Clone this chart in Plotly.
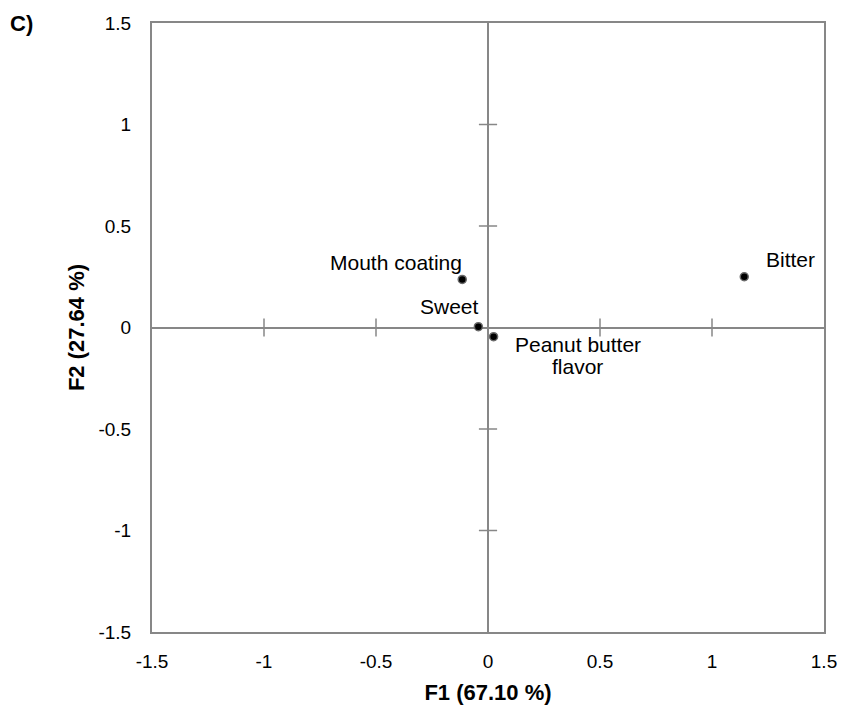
import plotly.graph_objects as go

# Data
attributes = ["Mouth coating", "Sweet", "Peanut butter flavor", "Bitter"]
f1_values = [-0.115, -0.043, 0.025, 1.144]
f2_values = [0.237, 0.004, -0.045, 0.250]
tick_values = [-1.5, -1, -0.5, 0, 0.5, 1, 1.5]
tick_labels = ["-1.5", "-1", "-0.5", "0", "0.5", "1", "1.5"]

FONT = "Liberation Sans, Arial, sans-serif"
AXIS_GRAY = "#878787"

fig = go.Figure()

# cross ticks on the zero lines
inner_ticks = [t for t in tick_values if t not in (-1.5, 0, 1.5)]
fig.add_trace(go.Scatter(
    x=inner_ticks, y=[0] * len(inner_ticks), mode="markers",
    marker=dict(symbol="line-ns-open", size=13, color=AXIS_GRAY,
                line=dict(color=AXIS_GRAY, width=1.5)),
    hoverinfo="skip", showlegend=False))
fig.add_trace(go.Scatter(
    x=[0] * len(inner_ticks), y=inner_ticks, mode="markers",
    marker=dict(symbol="line-ew-open", size=13, color=AXIS_GRAY,
                line=dict(color=AXIS_GRAY, width=1.5)),
    hoverinfo="skip", showlegend=False))

# points
fig.add_trace(go.Scatter(
    x=f1_values, y=f2_values, mode="markers",
    marker=dict(symbol="circle", size=8, color="black", line=dict(color="#6a6a6a", width=1.5)),
    showlegend=False))

# labels (one annotation per text line)
label_pos = [
    [dict(xanchor="right", xshift=2, yshift=17)],
    [dict(xanchor="right", xshift=3, yshift=20)],
    [dict(xanchor="center", xshift=84, yshift=-8),
     dict(xanchor="center", xshift=84, yshift=-30)],
    [dict(xanchor="left", xshift=20, yshift=17)],
]
for name, x, y, positions in zip(attributes, f1_values, f2_values, label_pos):
    if len(positions) == 2:
        words = name.split(" ")
        lines = [" ".join(words[:-1]), words[-1]]
    else:
        lines = [name]
    for line, pos in zip(lines, positions):
        fig.add_annotation(x=x, y=y, text=line, showarrow=False, yanchor="middle",
                           font=dict(family=FONT, size=21, color="black"), **pos)

fig.add_annotation(xref="paper", yref="paper", x=-0.214, y=1.0, text="<b>C)</b>",
                   showarrow=False, xanchor="left", yanchor="middle",
                   font=dict(family=FONT, size=22, color="black"))

axis_common = dict(
    range=[-1.5, 1.5], tickmode="array", tickvals=tick_values, ticktext=tick_labels,
    showgrid=False, zeroline=True, zerolinecolor=AXIS_GRAY, zerolinewidth=2,
    showline=True, linecolor=AXIS_GRAY, linewidth=2, mirror=True,
    ticks="outside", tickcolor="rgba(0,0,0,0)", automargin=False,
    tickfont=dict(family=FONT, size=19, color="black"),
)

fig.update_layout(
    width=842, height=708,
    margin=dict(l=152, r=18, t=23, b=76),
    paper_bgcolor="white", plot_bgcolor="white",
    xaxis=dict(**axis_common, ticklen=11,
               title=dict(text="<b>F1 (67.10 %)</b>", standoff=14,
                          font=dict(family=FONT, size=22, color="black"))),
    yaxis=dict(**axis_common, ticklen=15,
               title=dict(text="<b>F2 (27.64 %)</b>", standoff=8,
                          font=dict(family=FONT, size=22, color="black"))),
)

fig.write_html("out.html")
